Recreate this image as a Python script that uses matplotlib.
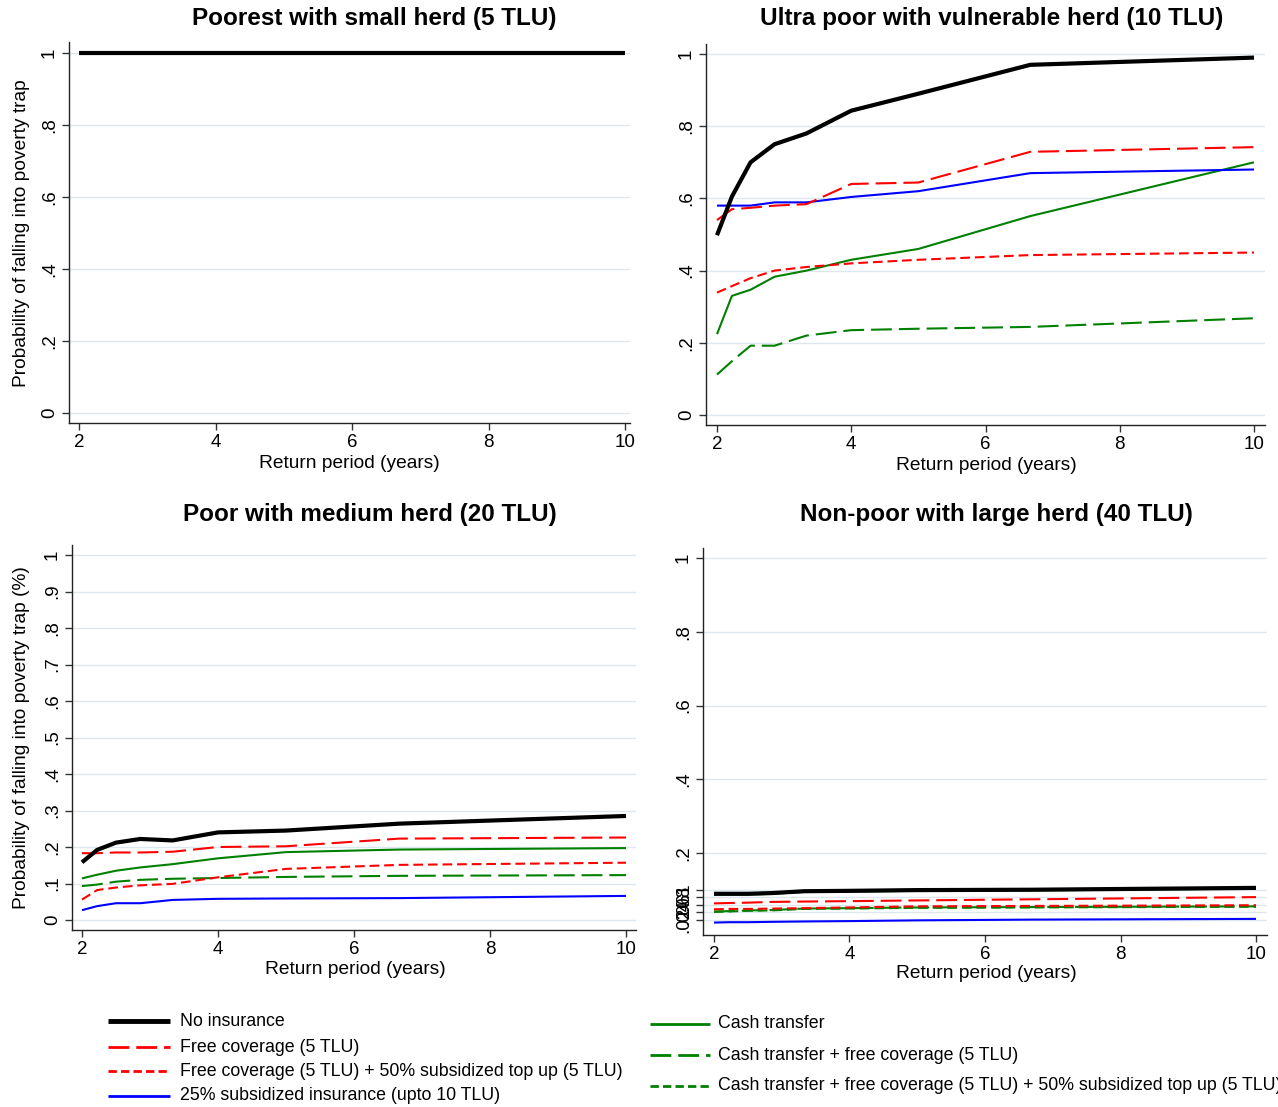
import matplotlib
matplotlib.use("Agg")
import matplotlib.pyplot as plt
from matplotlib.lines import Line2D
import numpy as np

plt.rcParams['font.family'] = ['Liberation Sans', 'DejaVu Sans']
plt.rcParams['lines.scale_dashes'] = False

# Return period (years)
return_period = [2, 2.222, 2.5, 2.857, 3.333, 4, 5, 6.667, 10]

series_names = [
    "No insurance",
    "Free coverage (5 TLU)",
    "Free coverage (5 TLU) + 50% subsidized top up (5 TLU)",
    "25% subsidized insurance (upto 10 TLU)",
    "Cash transfer",
    "Cash transfer + free coverage (5 TLU)",
    "Cash transfer + free coverage (5 TLU) + 50% subsidized top up (5 TLU)",
]

panel_titles = [
    "Poorest with small herd (5 TLU)",
    "Ultra poor with vulnerable herd (10 TLU)",
    "Poor with medium herd (20 TLU)",
    "Non-poor with large herd (40 TLU)",
]

# Panel 1: Poorest (5 TLU) -- all strategies at 1
p1_no_ins      = [1, 1, 1, 1, 1, 1, 1, 1, 1]
p1_free        = [1, 1, 1, 1, 1, 1, 1, 1, 1]
p1_free_top    = [1, 1, 1, 1, 1, 1, 1, 1, 1]
p1_sub25       = [1, 1, 1, 1, 1, 1, 1, 1, 1]
p1_cash        = [1, 1, 1, 1, 1, 1, 1, 1, 1]
p1_cash_free   = [1, 1, 1, 1, 1, 1, 1, 1, 1]
p1_cash_top    = [1, 1, 1, 1, 1, 1, 1, 1, 1]

# Panel 2: Ultra poor (10 TLU)
p2_no_ins      = [0.498, 0.605, 0.70, 0.75, 0.78, 0.843, 0.89, 0.97, 0.99]
p2_free        = [0.54, 0.57, 0.574, 0.58, 0.584, 0.64, 0.644, 0.729, 0.742]
p2_free_top    = [0.339, 0.357, 0.379, 0.40, 0.41, 0.42, 0.43, 0.443, 0.45]
p2_sub25       = [0.58, 0.58, 0.58, 0.589, 0.589, 0.604, 0.62, 0.67, 0.68]
p2_cash        = [0.224, 0.33, 0.347, 0.383, 0.40, 0.43, 0.46, 0.551, 0.70]
p2_cash_free   = [0.112, 0.149, 0.192, 0.192, 0.22, 0.235, 0.239, 0.244, 0.268]
p2_cash_top    = [None] * 9

# Panel 3: Poor (20 TLU)
p3_no_ins      = [0.158, 0.192, 0.212, 0.222, 0.218, 0.24, 0.245, 0.264, 0.285]
p3_free        = [0.183, 0.183, 0.185, 0.185, 0.187, 0.20, 0.202, 0.223, 0.226]
p3_free_top    = [0.056, 0.082, 0.089, 0.095, 0.099, 0.117, 0.14, 0.151, 0.157]
p3_sub25       = [0.027, 0.038, 0.046, 0.046, 0.055, 0.058, 0.059, 0.06, 0.066]
p3_cash        = [0.114, 0.124, 0.135, 0.144, 0.153, 0.169, 0.186, 0.193, 0.197]
p3_cash_free   = [0.093, 0.097, 0.105, 0.11, 0.113, 0.115, 0.118, 0.121, 0.123]
p3_cash_top    = [None] * 9

# Panel 4: Non-poor (40 TLU)
p4_no_ins      = [0.09, 0.09, 0.09, 0.092, 0.097, 0.098, 0.10, 0.101, 0.106]
p4_free        = [0.064, 0.065, 0.066, 0.068, 0.069, 0.070, 0.072, 0.075, 0.081]
p4_free_top    = [0.048, 0.049, 0.049, 0.05, 0.051, 0.053, 0.056, 0.057, 0.059]
p4_sub25       = [0.012, 0.013, 0.013, 0.014, 0.015, 0.016, 0.018, 0.02, 0.022]
p4_cash        = [0.088, 0.088, 0.088, 0.09, 0.095, 0.096, 0.098, 0.099, 0.104]
p4_cash_free   = [0.042, 0.043, 0.045, 0.046, 0.05, 0.051, 0.053, 0.054, 0.056]
p4_cash_top    = [0.041, 0.042, 0.044, 0.045, 0.049, 0.05, 0.052, 0.053, 0.055]

panels = [
    [p1_no_ins, p1_free, p1_free_top, p1_sub25, p1_cash, p1_cash_free, p1_cash_top],
    [p2_no_ins, p2_free, p2_free_top, p2_sub25, p2_cash, p2_cash_free, p2_cash_top],
    [p3_no_ins, p3_free, p3_free_top, p3_sub25, p3_cash, p3_cash_free, p3_cash_top],
    [p4_no_ins, p4_free, p4_free_top, p4_sub25, p4_cash, p4_cash_free, p4_cash_top],
]

GREEN = '#008000'
styles = [
    dict(color='black', lw=3.0, dashes=None, z=10),
    dict(color='#ff0000', lw=1.5, dashes=(15, 5), z=8),
    dict(color='#ff0000', lw=1.5, dashes=(7, 3.5), z=7),
    dict(color='#0000ff', lw=1.5, dashes=None, z=6),
    dict(color=GREEN, lw=1.5, dashes=None, z=5),
    dict(color=GREEN, lw=1.5, dashes=(15, 5), z=4),
    dict(color=GREEN, lw=1.5, dashes=(7, 3.5), z=3),
]

W, H = 1278, 1107
fig = plt.figure(figsize=(W / 100, H / 100), dpi=100)

def fx(px):
    return px / W

def fy(py):
    return 1 - py / H

# axes boxes in pixels: left, right, top, bottom ; and data calibration
boxes = [
    dict(l=69, r=630, t=42, b=423, x2=79, x10=625, y0=413, y1=53),
    dict(l=706, r=1265, t=44, b=425, x2=717, x10=1254, y0=415, y1=54),
    dict(l=72, r=636, t=545, b=930, x2=82, x10=626, y0=920, y1=555),
    dict(l=703, r=1267, t=548, b=935, x2=714, x10=1256, y0=927, y1=558),
]

yticks_sets = [
    ([0, 0.2, 0.4, 0.6, 0.8, 1], ['0', '.2', '.4', '.6', '.8', '1']),
    ([0, 0.2, 0.4, 0.6, 0.8, 1], ['0', '.2', '.4', '.6', '.8', '1']),
    ([0, .1, .2, .3, .4, .5, .6, .7, .8, .9, 1],
     ['0', '.1', '.2', '.3', '.4', '.5', '.6', '.7', '.8', '.9', '1']),
    ([.02, .04, .06, .08, .1, .2, .4, .6, .8, 1],
     ['.02', '.04', '.06', '.08', '.1', '.2', '.4', '.6', '.8', '1']),
]

title_pos = [(374, 18), (992, 19), (370, 514), (996, 515)]
xlabel_pos = [(349, 463), (986, 465), (355, 970), (986, 973)]
ylabels = ["Probability of falling into poverty trap", None,
           "Probability of falling into poverty trap (%)", None]
ylabel_pos = [(22, 233), None, (22, 738), None]

for i, (bx, data) in enumerate(zip(boxes, panels)):
    ax = fig.add_axes([fx(bx['l']), fy(bx['b']), fx(bx['r'] - bx['l']), (bx['b'] - bx['t']) / H])
    xs = (bx['x10'] - bx['x2']) / 8.0
    ys = (bx['y0'] - bx['y1']) / 1.0
    ax.set_xlim(2 - (bx['x2'] - bx['l']) / xs, 10 + (bx['r'] - bx['x10']) / xs)
    ax.set_ylim(-(bx['b'] - bx['y0']) / ys, 1 + (bx['y1'] - bx['t']) / ys)
    for k in range(6, -1, -1):
        st = styles[k]
        vals = np.array([np.nan if v is None else v for v in data[k]], dtype=float)
        ln, = ax.plot(return_period, vals, color=st['color'], lw=st['lw'],
                      zorder=st['z'], solid_capstyle='butt', dash_capstyle='butt',
                      clip_on=False)
        if st['dashes'] is not None:
            ln.set_dashes(st['dashes'])
    ax.set_xticks([2, 4, 6, 8, 10])
    ax.set_xticklabels(['2', '4', '6', '8', '10'])
    yt, yl = yticks_sets[i]
    ax.set_yticks(yt)
    ax.set_yticklabels(yl, rotation=90, va='center')
    ax.tick_params(axis='both', labelsize=13.5, length=5, width=1, color='#333333', pad=3)
    ax.grid(axis='y', color='#dde8ee', lw=1)
    ax.grid(axis='x', visible=False)
    ax.set_axisbelow(True)
    for s in ['top', 'right']:
        ax.spines[s].set_visible(False)
    for s in ['left', 'bottom']:
        ax.spines[s].set_color('#222222')
        ax.spines[s].set_linewidth(1)
    fig.text(fx(title_pos[i][0]), fy(title_pos[i][1]), panel_titles[i],
             ha='center', va='center', fontsize=17.5, fontweight='bold')
    fig.text(fx(xlabel_pos[i][0]), fy(xlabel_pos[i][1]), "Return period (years)",
             ha='center', va='center', fontsize=13.8)
    if ylabels[i]:
        fig.text(fx(ylabel_pos[i][0]), fy(ylabel_pos[i][1]), ylabels[i],
                 ha='center', va='center', rotation=90, fontsize=13.8)

# Legend (two columns)
left_rows = [1021, 1047, 1071, 1096]
right_rows = [1024, 1055, 1086]
entries = [(0, 108, 170, 180, left_rows[0]), (1, 108, 170, 180, left_rows[1]),
           (2, 108, 170, 180, left_rows[2]), (3, 108, 170, 180, left_rows[3]),
           (4, 650, 710, 718, right_rows[0]), (5, 650, 710, 718, right_rows[1]),
           (6, 650, 710, 718, right_rows[2])]
for k, x0, x1, xt, yy in entries:
    st = styles[k]
    ln = Line2D([fx(x0), fx(x1)], [fy(yy), fy(yy)], transform=fig.transFigure,
                color=st['color'], lw=(3.5 if k == 0 else 2.0),
                solid_capstyle='butt', dash_capstyle='butt')
    if st['dashes'] is not None:
        ln.set_dashes(st['dashes'] if st['dashes'][0] > 10 else (6, 3))
    fig.add_artist(ln)
    fig.text(fx(xt), fy(yy), series_names[k], ha='left', va='center', fontsize=12.8)

fig.savefig("out.png", dpi=100)
